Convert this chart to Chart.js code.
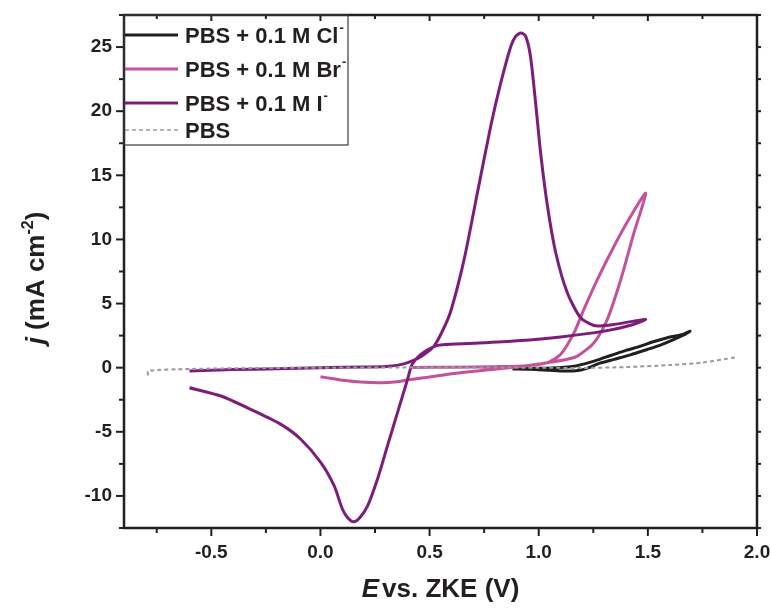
<!DOCTYPE html>
<html>
<head>
<meta charset="utf-8">
<script src="https://cdn.jsdelivr.net/npm/chart.js@4.4.0/dist/chart.umd.min.js"></script>
<style>
  html, body { margin: 0; padding: 0; background: #fff; }
</style>
</head>
<body>
<canvas id="myChart" width="771" height="609"></canvas>
<script>
// axis ticks
const xMajor = [-0.5, 0.0, 0.5, 1.0, 1.5, 2.0];
const xMinor = [-0.75, -0.25, 0.25, 0.75, 1.25, 1.75];
const yMajor = [-10, -5, 0, 5, 10, 15, 20, 25];
const yMinor = [-12.5, -7.5, -2.5, 2.5, 7.5, 12.5, 17.5, 22.5, 27.5];

// legend labels (base text + superscript)
const labels = ['PBS + 0.1 M Cl', 'PBS + 0.1 M Br', 'PBS + 0.1 M I', 'PBS'];
const labelSup = ['-', '-', '-', ''];

// PBS + 0.1 M Cl-
const clE = [0.88, 0.96, 1.05, 1.12, 1.18, 1.22, 1.28, 1.345, 1.42, 1.497, 1.56, 1.62, 1.665, 1.693,
             1.66, 1.589, 1.52, 1.467, 1.40, 1.345, 1.30, 1.253, 1.21, 1.162, 1.10, 1.0, 0.94];
const clJ = [-0.1, -0.12, -0.2, -0.26, -0.22, -0.05, 0.35, 0.65, 1.0, 1.42, 1.78, 2.2, 2.55, 2.85,
             2.6, 2.34, 2.0, 1.68, 1.35, 1.04, 0.78, 0.51, 0.3, 0.12, 0.02, -0.05, -0.06];

// PBS + 0.1 M Br-
const brE = [0.0, 0.05, 0.1, 0.185, 0.277, 0.35, 0.4, 0.5, 0.612, 0.75, 0.9, 1.0, 1.056, 1.12, 1.177,
             1.253, 1.314, 1.376, 1.436, 1.49, 1.421, 1.345, 1.269, 1.207, 1.162, 1.101,
             1.04, 0.95, 0.8, 0.6, 0.42];
const brJ = [-0.7, -0.85, -0.98, -1.12, -1.17, -1.1, -0.95, -0.72, -0.45, -0.2, 0.05, 0.28, 0.44, 0.62, 0.9,
             1.95, 3.76, 6.88, 10.5, 13.6, 11.8, 9.47, 6.88, 4.54, 2.73, 1.04,
             0.39, 0.15, 0.08, 0.04, 0.02];

// PBS + 0.1 M I-
const iE = [-0.6, -0.4, -0.2, 0.0, 0.2, 0.3, 0.35, 0.4, 0.46, 0.52, 0.56, 0.597, 0.658, 0.719, 0.78,
            0.826, 0.872, 0.895, 0.918, 0.94, 0.962, 0.986, 1.009, 1.04, 1.078, 1.131, 1.192, 1.253,
            1.3, 1.345, 1.436, 1.49,
            1.43, 1.3, 1.1, 0.9, 0.7, 0.56, 0.52, 0.46, 0.42, 0.399, 0.353, 0.307, 0.261, 0.216,
            0.18, 0.152, 0.125, 0.101, 0.063, 0.002, -0.09, -0.181, -0.303, -0.456, -0.6];
const iJ = [-0.25, -0.15, -0.08, 0.0, 0.05, 0.1, 0.18, 0.39, 0.86, 1.68, 2.9, 4.4, 8.43, 13.63, 18.82,
            22.2, 25.05, 25.85, 26.1, 25.85, 24.3, 20.6, 16.7, 12.6, 8.96, 5.84, 3.89, 3.29,
            3.28, 3.37, 3.63, 3.76,
            3.35, 2.85, 2.4, 2.1, 1.9, 1.78, 1.65, 1.04, 0.26, -0.91, -3.5, -6.1, -8.7, -10.78,
            -11.7, -12.02, -11.7, -11.04, -9.22, -7.4, -5.58, -4.42, -3.38, -2.21, -1.56];

// PBS
const pbsE = [-0.79, -0.79, -0.6, -0.3, 0.0, 0.5, 1.0, 1.2, 1.4, 1.6, 1.75, 1.9];
const pbsJ = [-0.6, -0.25, -0.1, -0.03, 0.0, 0.02, 0.0, -0.02, 0.05, 0.2, 0.4, 0.8];

const ink = '#231f20';
const colors = ['#231f20', '#c4519c', '#7b1e7a', '#9a9a9a'];
const font = '"Liberation Sans", Arial, sans-serif';

const pts = (xs, ys) => xs.map((v, i) => ({ x: v, y: ys[i] }));

const decor = {
  id: 'decor',
  afterDraw(chart) {
    const { ctx, chartArea: a, scales: { x, y } } = chart;
    ctx.save();
    ctx.strokeStyle = ink;
    const line = (x1, y1, x2, y2) => { ctx.beginPath(); ctx.moveTo(x1, y1); ctx.lineTo(x2, y2); ctx.stroke(); };

    // tick marks
    ctx.lineWidth = 2;
    xMajor.forEach(v => { const p = x.getPixelForValue(v); line(p, a.bottom, p, a.bottom + 8); line(p, a.top, p, a.top + 6); });
    xMinor.forEach(v => { const p = x.getPixelForValue(v); line(p, a.bottom, p, a.bottom + 5); line(p, a.top, p, a.top + 4); });
    yMajor.forEach(v => { const p = y.getPixelForValue(v); line(a.left - 8, p, a.left, p); line(a.right, p, a.right + 4, p); });
    yMinor.forEach(v => { const p = y.getPixelForValue(v); line(a.left - 5, p, a.left, p); line(a.right, p, a.right + 4, p); });

    // frame
    ctx.lineWidth = 2.5;
    ctx.strokeRect(a.left, a.top, a.right - a.left, a.bottom - a.top);

    // legend
    const lx = a.left, ly = a.top;
    ctx.lineWidth = 1.2;
    ctx.strokeStyle = '#3a3a3a';
    ctx.strokeRect(lx, ly, 224, 130);
    const rows = [20, 54, 88, 115];
    rows.forEach((dy, i) => {
      const cy = ly + dy;
      ctx.strokeStyle = colors[i];
      if (i === 3) { ctx.lineWidth = 1.5; ctx.setLineDash([4, 3]); } else { ctx.lineWidth = 3; ctx.setLineDash([]); }
      line(lx + 1, cy, lx + 54, cy);
      ctx.setLineDash([]);
      ctx.fillStyle = ink;
      ctx.font = 'bold 22px ' + font;
      ctx.textBaseline = 'alphabetic';
      ctx.textAlign = 'left';
      ctx.fillText(labels[i], lx + 61, cy + 8);
      if (labelSup[i]) {
        const w = ctx.measureText(labels[i]).width;
        ctx.font = 'bold 13px ' + font;
        ctx.fillText(labelSup[i], lx + 61 + w + 1, cy - 3);
      }
    });

    // x axis title: E vs. ZKE (V)
    ctx.fillStyle = ink;
    ctx.textBaseline = 'alphabetic';
    ctx.textAlign = 'left';
    ctx.font = 'italic bold 26px ' + font;
    const wE = ctx.measureText('E').width;
    ctx.font = 'bold 26px ' + font;
    const rest = 'vs. ZKE (V)';
    const wR = ctx.measureText(rest).width;
    let sx = (a.left + a.right) / 2 - (wE + 3 + wR) / 2;
    ctx.font = 'italic bold 26px ' + font;
    ctx.fillText('E', sx, 597);
    ctx.font = 'bold 26px ' + font;
    ctx.fillText(rest, sx + wE + 3, 597);

    // y axis title: j (mA cm-2)
    ctx.save();
    ctx.translate(44, 278);
    ctx.rotate(-Math.PI / 2);
    const parts = [
      { t: 'j', f: 'italic bold 26px ', dy: 0 },
      { t: ' (mA cm', f: 'bold 26px ', dy: 0 },
      { t: '-2', f: 'bold 16px ', dy: -11 },
      { t: ')', f: 'bold 26px ', dy: 0 }
    ];
    let total = 0;
    parts.forEach(p => { ctx.font = p.f + font; p.w = ctx.measureText(p.t).width; total += p.w; });
    let px = -total / 2;
    parts.forEach(p => { ctx.font = p.f + font; ctx.fillText(p.t, px, p.dy); px += p.w; });
    ctx.restore();

    ctx.restore();
  }
};

const ctx = document.getElementById('myChart').getContext('2d');
const myChart = new Chart(ctx, {
  type: 'scatter',
  data: {
    datasets: [
      { label: labels[0] + labelSup[0], data: pts(clE, clJ), borderColor: colors[0], borderWidth: 3, order: 3 },
      { label: labels[1] + labelSup[1], data: pts(brE, brJ), borderColor: colors[1], borderWidth: 3, order: 2 },
      { label: labels[2] + labelSup[2], data: pts(iE, iJ), borderColor: colors[2], borderWidth: 3, order: 1 },
      { label: labels[3], data: pts(pbsE, pbsJ), borderColor: colors[3], borderWidth: 2, borderDash: [4, 3], order: 0 }
    ].map(d => Object.assign(d, { showLine: true, pointRadius: 0, tension: 0.25, fill: false }))
  },
  options: {
    responsive: false,
    animation: false,
    layout: { padding: { top: 15, right: 14, left: 0, bottom: 0 } },
    plugins: { legend: { display: false }, tooltip: { enabled: false } },
    scales: {
      x: {
        type: 'linear', min: -0.9, max: 2.0,
        grid: { display: false, drawTicks: false },
        border: { display: false },
        afterBuildTicks: s => { s.ticks = xMajor.map(v => ({ value: v })); },
        afterFit: s => { s.height = 81; s.paddingLeft = 0; s.paddingRight = 0; },
        ticks: { padding: 13, color: ink, font: { family: font, size: 19, weight: 'bold' },
                 callback: v => v.toFixed(1), maxRotation: 0 }
      },
      y: {
        type: 'linear', min: -12.5, max: 27.5,
        grid: { display: false, drawTicks: false },
        border: { display: false },
        afterBuildTicks: s => { s.ticks = yMajor.map(v => ({ value: v })); },
        afterFit: s => { s.width = 124; s.paddingTop = 0; s.paddingBottom = 0; },
        ticks: { padding: 12, color: ink, font: { family: font, size: 19, weight: 'bold' },
                 callback: v => String(v) }
      }
    }
  },
  plugins: [decor]
});
</script>
</body>
</html>
